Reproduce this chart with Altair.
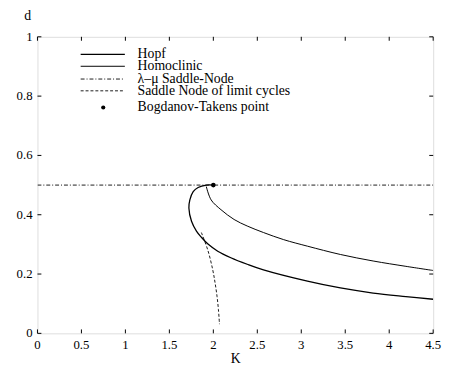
import altair as alt
import pandas as pd

# Hopf curve (from Bogdanov-Takens point around the fold and down to the right)
hopf_K = [2.0, 1.92, 1.827, 1.771, 1.733, 1.722, 1.752, 1.808, 1.864, 1.939,
          2.05, 2.199, 2.385, 2.57, 3.07, 3.445, 3.817, 4.19, 4.5]
hopf_d = [0.5, 0.5, 0.492, 0.478, 0.45, 0.423, 0.378, 0.345, 0.324, 0.301,
          0.277, 0.255, 0.233, 0.214, 0.176, 0.153, 0.136, 0.124, 0.115]

# Homoclinic curve
homo_K = [1.92, 1.975, 2.087, 2.236, 2.385, 2.57, 2.8, 3.07, 3.445, 3.817, 4.19, 4.5]
homo_d = [0.495, 0.45, 0.417, 0.384, 0.362, 0.34, 0.316, 0.294, 0.266, 0.244, 0.226, 0.212]

# lambda-mu saddle-node (horizontal)
sn_K = [0.0, 4.5]
sn_d = [0.5, 0.5]

# Saddle node of limit cycles
snlc_K = [1.864, 1.939, 1.994, 2.02, 2.042, 2.058, 2.07]
snlc_d = [0.34, 0.279, 0.213, 0.17, 0.125, 0.08, 0.031]

# Bogdanov-Takens point
bt_K = [2.0]
bt_d = [0.5]

x_ticks = [0, 0.5, 1, 1.5, 2, 2.5, 3, 3.5, 4, 4.5]
x_labels = ["0", "0.5", "1", "1.5", "2", "2.5", "3", "3.5", "4", "4.5"]
y_ticks = [0, 0.2, 0.4, 0.6, 0.8, 1]
y_labels = ["0", "0.2", "0.4", "0.6", "0.8", "1"]

legend_labels = ["Hopf", "Homoclinic", "λ–μ Saddle-Node", "Saddle Node of limit cycles",
                 "Bogdanov-Takens point"]

FONT = "Liberation Serif"
W, H = 403, 302

xs = alt.Scale(domain=[0, 4.5], nice=False, zero=False)
ys = alt.Scale(domain=[0, 1], nice=False, zero=False)


def X():
    return alt.X("K:Q", scale=xs, axis=None)


def Y():
    return alt.Y("d:Q", scale=ys, axis=None)


def curve(K, d, dash, width):
    df = pd.DataFrame({"K": K, "d": d, "i": range(len(K))})
    props = dict(color="black", strokeWidth=width, clip=True, interpolate="catmull-rom")
    if dash:
        props["strokeDash"] = dash
    return alt.Chart(df).mark_line(**props).encode(x=X(), y=Y(), order="i:Q")


hopf = curve(hopf_K, hopf_d, None, 1.3)
homo = curve(homo_K, homo_d, None, 1.0)
sn = curve(sn_K, sn_d, [4, 2, 1, 2], 0.9)
snlc = curve(snlc_K, snlc_d, [3, 2], 0.9)

bt = alt.Chart(pd.DataFrame({"K": bt_K, "d": bt_d})).mark_circle(
    color="black", size=22, opacity=1).encode(x=X(), y=Y())

# inner ticks and tick labels
xt = pd.DataFrame({"K": x_ticks, "lab": x_labels})
yt = pd.DataFrame({"d": y_ticks, "lab": y_labels})
tick_b = alt.Chart(xt).mark_rule(color="black", strokeWidth=1).encode(
    x=X(), y=alt.value(H), y2=alt.value(H - 4))
tick_t = alt.Chart(xt).mark_rule(color="black", strokeWidth=1).encode(
    x=X(), y=alt.value(0), y2=alt.value(4))
tick_l = alt.Chart(yt).mark_rule(color="black", strokeWidth=1).encode(
    y=Y(), x=alt.value(0), x2=alt.value(4))
tick_r = alt.Chart(yt).mark_rule(color="black", strokeWidth=1).encode(
    y=Y(), x=alt.value(W), x2=alt.value(W - 4))
xlab = alt.Chart(xt).mark_text(font=FONT, fontSize=13, color="black",
                               align="center", baseline="middle").encode(
    x=X(), y=alt.value(H + 12), text="lab:N")
ylab = alt.Chart(yt).mark_text(font=FONT, fontSize=13, color="black",
                               align="right", baseline="middle").encode(
    y=Y(), x=alt.value(-5), text="lab:N")

# axis titles
d_title = alt.Chart(pd.DataFrame({"t": ["d"]})).mark_text(
    font=FONT, fontSize=14, color="black", align="center", baseline="middle").encode(
    text="t:N", x=alt.value(-10), y=alt.value(-21))
k_title = alt.Chart(pd.DataFrame({"t": ["K"]})).mark_text(
    font=FONT, fontSize=14, color="black", align="center", baseline="middle").encode(
    text="t:N", x=alt.value(202), y=alt.value(328))

# legend
rows_y = [18, 30, 43, 55, 72]
dashes = [None, None, [4, 2, 1, 2], [3, 2]]
widths = [1.3, 1.0, 0.9, 0.9]
leg = []
for i in range(4):
    props = dict(color="black", strokeWidth=widths[i])
    if dashes[i]:
        props["strokeDash"] = dashes[i]
    leg.append(alt.Chart(pd.DataFrame({"a": [0]})).mark_rule(**props).encode(
        x=alt.value(44), x2=alt.value(89), y=alt.value(rows_y[i])))
leg.append(alt.Chart(pd.DataFrame({"a": [0]})).mark_point(
    filled=True, shape="circle", color="black", size=18, opacity=1).encode(
    x=alt.value(67), y=alt.value(rows_y[4])))
for i, lab in enumerate(legend_labels):
    leg.append(alt.Chart(pd.DataFrame({"t": [lab]})).mark_text(
        font=FONT, fontSize=14, color="black", align="left", baseline="middle").encode(
        text="t:N", x=alt.value(102), y=alt.value(rows_y[i])))

chart = alt.layer(sn, hopf, homo, snlc, bt, tick_b, tick_t, tick_l, tick_r,
                  xlab, ylab, d_title, k_title, *leg).properties(
    width=W, height=H,
    autosize=alt.AutoSizeParams(type="none"),
    padding={"left": 30, "top": 26, "right": 10, "bottom": 35},
).configure_view(stroke="black", strokeWidth=1).configure(background="white")

chart.save("out.html", embed_options={"renderer": "svg", "actions": False})
